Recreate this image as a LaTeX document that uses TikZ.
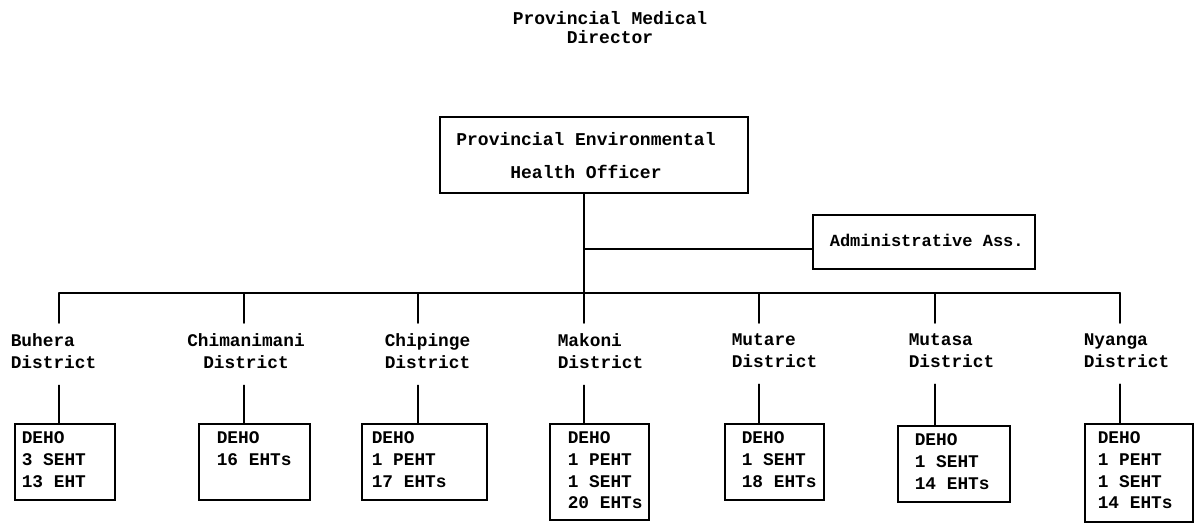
\documentclass[tikz,border=0pt]{standalone}
\usepackage{fontspec}
\setmainfont{Liberation Mono}
\begin{document}
\begin{tikzpicture}[x=1pt,y=-1pt,line width=1.6pt,
  txt/.style={font=\fontsize{17.8}{21.7}\selectfont\bfseries,inner sep=0pt,align=left},
  boxn/.style={draw,inner sep=0pt,minimum width=#1},
  conn/.style={line cap=round}]
\useasboundingbox (0,0) rectangle (1201,524);
% title
\node[txt,anchor=north,align=center,font=\fontsize{18}{19}\selectfont\bfseries] (pmd) at (610,11) {Provincial Medical\\Director};
% PEHO
\node[boxn=308,minimum height=76] (peho) at (594,155) {};
\node[txt,anchor=north,align=center,font=\fontsize{18}{33}\selectfont\bfseries] (pehot) at (586,132) {Provincial Environmental\\Health Officer};
% admin
\node[boxn=222,minimum height=54] (admin) at (924,242) {};
\node[txt,anchor=north west,font=\fontsize{17}{20}\selectfont\bfseries] (admint) at (829,233) {Administrative Ass.};
% trunk
\coordinate (trunk) at (584,293);
\coordinate (amid) at (584,249);
\draw[conn] (peho.south -| trunk) -- (trunk);
\draw[conn] (amid) -- (amid -| admin.west);
% bus
\coordinate (b1) at (59,293);
\coordinate (b2) at (244,293);
\coordinate (b3) at (418,293);
\coordinate (b4) at (584,293);
\coordinate (b5) at (759,293);
\coordinate (b6) at (935,293);
\coordinate (b7) at (1120,293);
\draw[conn] (b1) -- (b7);
% district labels
\node[txt,anchor=north west] (d1) at (10,333) {Buhera\\District};
\node[txt,anchor=north,align=center] (d2) at (246,333) {Chimanimani\\District};
\node[txt,anchor=north west] (d3) at (384,333) {Chipinge\\District};
\node[txt,anchor=north west] (d4) at (557,333) {Makoni\\District};
\node[txt,anchor=north west] (d5) at (731,333) {Mutare\\District};
\node[txt,anchor=north west] (d6) at (908,333) {Mutasa\\District};
\node[txt,anchor=north west] (d7) at (1083,333) {Nyanga\\District};
% boxes
\node[boxn=100,minimum height=76] (x1) at (65,462) {};
\node[boxn=111,minimum height=76] (x2) at (254.5,462) {};
\node[boxn=125,minimum height=76] (x3) at (424.5,462) {};
\node[boxn=99,minimum height=96] (x4) at (599.5,472) {};
\node[boxn=99,minimum height=76] (x5) at (774.5,462) {};
\node[boxn=112,minimum height=76] (x6) at (954,464) {};
\node[boxn=108,minimum height=98] (x7) at (1139,473) {};
% box texts
\node[txt,anchor=north west] (t1) at (21,431) {DEHO\\3 SEHT\\13 EHT};
\node[txt,anchor=north west] (t2) at (216,431) {DEHO\\16 EHTs};
\node[txt,anchor=north west] (t3) at (371,431) {DEHO\\1 PEHT\\17 EHTs};
\node[txt,anchor=north west] (t4) at (567,431) {DEHO\\1 PEHT\\1 SEHT\\20 EHTs};
\node[txt,anchor=north west] (t5) at (741,431) {DEHO\\1 SEHT\\18 EHTs};
\node[txt,anchor=north west] (t6) at (914,433) {DEHO\\1 SEHT\\14 EHTs};
\node[txt,anchor=north west] (t7) at (1097,431) {DEHO\\1 PEHT\\1 SEHT\\14 EHTs};
% drops
\foreach \i in {1,...,7}{
  \draw[conn,shorten >=10pt] (b\i) -- (b\i |- d\i.north);
  \draw[conn,shorten <=16pt] (b\i |- d\i.south) -- (b\i |- x\i.north);
}
\end{tikzpicture}
\end{document}
